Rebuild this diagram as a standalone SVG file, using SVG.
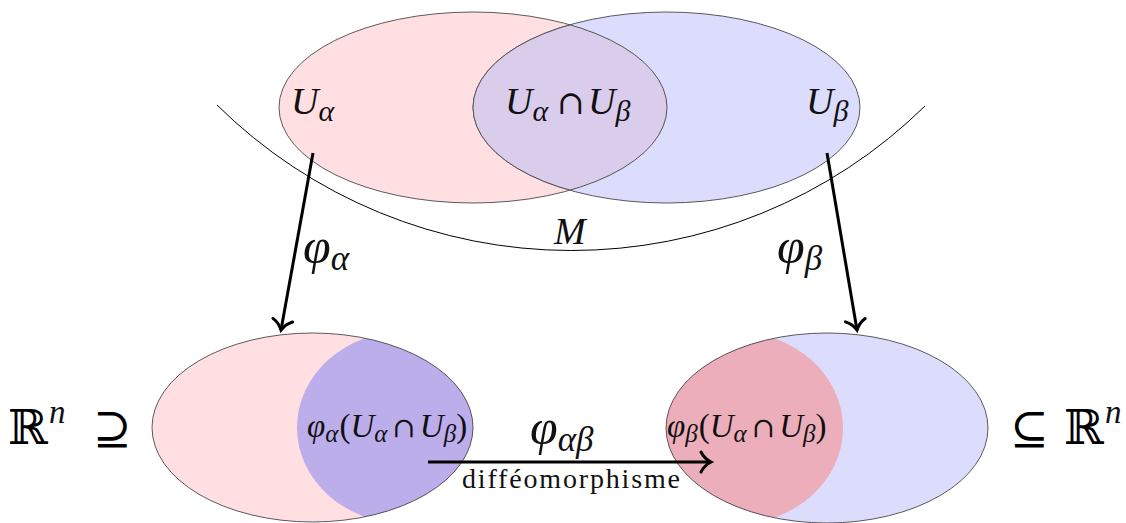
<svg xmlns="http://www.w3.org/2000/svg" width="1126" height="523" viewBox="0 0 1126 523">
<style>
.m{font-family:'Liberation Serif','Times New Roman',Tinos,'DejaVu Serif',serif;font-style:italic;fill:#111}
.r{font-family:'Liberation Serif','Times New Roman',Tinos,'DejaVu Serif',serif;font-style:normal;fill:#111}
.s{font-family:'DejaVu Serif',serif;font-style:normal}
.up{font-style:normal}
.edge{stroke:#333;stroke-width:0.8;fill:none}
.inner{stroke:#555;stroke-width:1;fill:none}
.arr{stroke:#000;stroke-width:3;fill:none;marker-end:url(#to)}
</style>
<defs>
<marker id="to" markerUnits="userSpaceOnUse" viewBox="-14 -14 16 28" refX="0" refY="0" markerWidth="16" markerHeight="28" orient="auto" overflow="visible">
<path d="M-10,-10 C-7,-4 -2,-1 0,0 C-2,1 -7,4 -10,10" fill="none" stroke="#000" stroke-width="3" stroke-linecap="round"/>
</marker>
<clipPath id="cTL"><ellipse cx="473" cy="107.5" rx="194" ry="95.5"/></clipPath>
<clipPath id="cTR"><ellipse cx="666.5" cy="107.5" rx="193.5" ry="95.5"/></clipPath>
<clipPath id="cBL"><ellipse cx="312.5" cy="427.5" rx="160.5" ry="94.5"/></clipPath>
<clipPath id="cBR"><ellipse cx="827" cy="428" rx="161" ry="95"/></clipPath>
</defs>

<g id="U-alpha">
<ellipse cx="473" cy="107.5" rx="194" ry="95.5" class="edge" style="fill:#ffdfe1"/>
<text class="m" font-family="Liberation Serif, serif" x="291" y="114" font-size="38">U<tspan font-size="30" dy="7">α</tspan></text>
</g>
<g id="U-beta">
<ellipse cx="666.5" cy="107.5" rx="193.5" ry="95.5" class="edge" style="fill:#dcdcfd"/>
<text class="m" font-family="Liberation Serif, serif" x="806" y="114" font-size="38">U<tspan font-size="30" dy="7">β</tspan></text>
</g>
<g id="U-intersection">
<ellipse cx="666.5" cy="107.5" rx="193.5" ry="95.5" fill="#d9cdeb" clip-path="url(#cTL)"/>
<ellipse cx="666.5" cy="107.5" rx="193.5" ry="95.5" class="inner" clip-path="url(#cTL)"/>
<ellipse cx="473" cy="107.5" rx="194" ry="95.5" class="inner" clip-path="url(#cTR)"/>
<text class="m" font-family="Liberation Serif, serif" x="505" y="114" font-size="38">U<tspan font-size="30" dy="7">α</tspan><tspan class="s" font-family="DejaVu Serif, serif" dy="-7" font-size="33" x="557">∩</tspan><tspan x="588">U</tspan><tspan font-size="30" dy="7">β</tspan></text>
</g>
<g id="M">
<path d="M217,105 A504.6,504.6 0 0 0 925,106" stroke="#000" stroke-width="1" fill="none"/>
<text class="m" font-family="Liberation Serif, serif" x="554" y="244" font-size="38">M</text>
</g>

<g id="chart-alpha">
<ellipse cx="312.5" cy="427.5" rx="160.5" ry="94.5" style="fill:#ffdfe1"/>
<ellipse cx="404.5" cy="427.5" rx="107.5" ry="96" fill="#bcaeea" clip-path="url(#cBL)"/>
<ellipse cx="312.5" cy="427.5" rx="160.5" ry="94.5" class="edge"/>
<text class="m" font-family="Liberation Serif, serif" x="307" y="437" font-size="33">φ<tspan font-size="25" dy="5">α</tspan><tspan class="up" dx="1" dy="-5">(</tspan>U<tspan font-size="25" dy="5">α</tspan><tspan class="s" font-family="DejaVu Serif, serif" dx="5" dy="-5" font-size="28">∩</tspan><tspan dx="4">U</tspan><tspan font-size="25" dy="5">β</tspan><tspan class="up" dy="-5">)</tspan></text>
<text class="s" font-family="DejaVu Serif, serif" x="8" y="444" font-size="48">ℝ<tspan class="m" font-family="Liberation Serif, serif" font-size="33" x="49" dy="-21">n</tspan><tspan x="93" y="444" font-size="46">⊇</tspan></text>
</g>

<g id="chart-beta">
<ellipse cx="827" cy="428" rx="161" ry="95" style="fill:#dcdcfd"/>
<ellipse cx="735.5" cy="428" rx="107.5" ry="96" fill="#edaebb" clip-path="url(#cBR)"/>
<ellipse cx="827" cy="428" rx="161" ry="95" class="edge"/>
<text class="m" font-family="Liberation Serif, serif" x="667" y="437" font-size="33">φ<tspan font-size="25" dy="5">β</tspan><tspan class="up" dx="1" dy="-5">(</tspan>U<tspan font-size="25" dy="5">α</tspan><tspan class="s" font-family="DejaVu Serif, serif" dx="5" dy="-5" font-size="28">∩</tspan><tspan dx="4">U</tspan><tspan font-size="25" dy="5">β</tspan><tspan class="up" dy="-5">)</tspan></text>
<text class="s" font-family="DejaVu Serif, serif" x="1010" y="444" font-size="46">⊆<tspan x="1064" font-size="48">ℝ</tspan><tspan class="m" font-family="Liberation Serif, serif" font-size="33" x="1105" dy="-21">n</tspan></text>
</g>

<g id="connectors">
<line class="arr" x1="313" y1="153" x2="281" y2="330"/>
<text class="m" font-family="Liberation Serif, serif" x="303" y="263" font-size="50">φ<tspan font-size="35" dy="7">α</tspan></text>
<line class="arr" x1="827" y1="153" x2="857" y2="330"/>
<text class="m" font-family="Liberation Serif, serif" x="777" y="263" font-size="50">φ<tspan font-size="35" dy="7">β</tspan></text>
<line class="arr" x1="428" y1="462" x2="711" y2="462"/>
<text class="m" font-family="Liberation Serif, serif" x="530" y="444" font-size="50">φ<tspan font-size="35" dy="7">αβ</tspan></text>
<text class="r" font-family="Liberation Serif, serif" x="571" y="488" font-size="28" text-anchor="middle" textLength="218">difféomorphisme</text>
</g>
</svg>
